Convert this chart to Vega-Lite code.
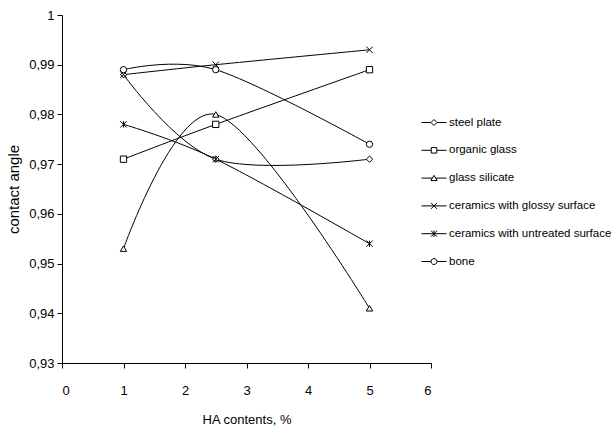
{
  "$schema": "https://vega.github.io/schema/vega-lite/v6.json",
  "width": 369,
  "height": 348,
  "autosize": {"type": "none"},
  "padding": {"left": 62, "top": 15, "right": 185, "bottom": 69},
  "background": "white",
  "config": {
    "view": {"stroke": null},
    "font": "Liberation Sans, Arial, sans-serif",
    "axis": {
      "grid": false,
      "domainColor": "black",
      "tickColor": "black",
      "tickSize": 5,
      "labelColor": "black",
      "labelFont": "Liberation Sans, Arial, sans-serif",
      "labelFontSize": 13,
      "titleColor": "black",
      "titleFont": "Liberation Sans, Arial, sans-serif",
      "titleFontWeight": "normal",
      "titleFontSize": 13
    },
    "legend": {
      "labelFont": "Liberation Sans, Arial, sans-serif",
      "labelFontSize": 11.5,
      "labelColor": "black",
      "labelLimit": 300,
      "symbolSize": 625,
      "symbolStrokeWidth": 1,
      "symbolStrokeColor": "black"
    }
  },
  "data": {
    "values": [
      {"series": "steel plate", "x": 1, "y": 0.988},
      {"series": "steel plate", "x": 2.5, "y": 0.971},
      {"series": "steel plate", "x": 5, "y": 0.971},
      {"series": "organic glass", "x": 1, "y": 0.971},
      {"series": "organic glass", "x": 2.5, "y": 0.978},
      {"series": "organic glass", "x": 5, "y": 0.989},
      {"series": "glass silicate", "x": 1, "y": 0.953},
      {"series": "glass silicate", "x": 2.5, "y": 0.980},
      {"series": "glass silicate", "x": 5, "y": 0.941},
      {"series": "ceramics with glossy surface", "x": 1, "y": 0.988},
      {"series": "ceramics with glossy surface", "x": 2.5, "y": 0.990},
      {"series": "ceramics with glossy surface", "x": 5, "y": 0.993},
      {"series": "ceramics with untreated surface", "x": 1, "y": 0.978},
      {"series": "ceramics with untreated surface", "x": 2.5, "y": 0.971},
      {"series": "ceramics with untreated surface", "x": 5, "y": 0.954},
      {"series": "bone", "x": 1, "y": 0.989},
      {"series": "bone", "x": 2.5, "y": 0.989},
      {"series": "bone", "x": 5, "y": 0.974}
    ]
  },
  "encoding": {
    "x": {
      "field": "x",
      "type": "quantitative",
      "scale": {"domain": [0, 6], "nice": false, "zero": false},
      "axis": {
        "values": [0, 1, 2, 3, 4, 5, 6],
        "format": "d",
        "labelPadding": 16,
        "title": "HA contents, %",
        "titlePadding": 16
      }
    },
    "y": {
      "field": "y",
      "type": "quantitative",
      "scale": {"domain": [0.93, 1], "nice": false, "zero": false},
      "axis": {
        "values": [0.93, 0.94, 0.95, 0.96, 0.97, 0.98, 0.99, 1],
        "labelExpr": "datum.value >= 0.9999 ? '1' : replace(format(datum.value, '.2f'), '.', ',')",
        "labelPadding": 3,
        "title": "contact angle",
        "titleFontSize": 15,
        "titlePadding": 7
      }
    }
  },
  "layer": [
    {
      "mark": {"type": "line", "interpolate": "cardinal", "color": "black", "strokeWidth": 1},
      "encoding": {
        "detail": {"field": "series", "type": "nominal"}
      }
    },
    {
      "mark": {"type": "point", "filled": true, "fill": "white", "stroke": "black", "strokeWidth": 1, "size": 40, "opacity": 1},
      "encoding": {
        "shape": {
          "field": "series",
          "type": "nominal",
          "scale": {
            "domain": ["steel plate", "organic glass", "glass silicate", "ceramics with glossy surface", "ceramics with untreated surface", "bone"],
            "range": ["diamond", "square", "triangle-up", "M-1,-1L1,1M-1,1L1,-1", "M-1,-1L1,1M-1,1L1,-1M0,-1L0,1", "circle"]
          },
          "legend": null
        }
      }
    },
    {
      "transform": [{"filter": "datum.x > 100"}],
      "mark": {"type": "point", "filled": false, "color": "black", "strokeWidth": 1, "opacity": 1},
      "encoding": {
        "shape": {
          "field": "series",
          "type": "nominal",
          "scale": {
            "domain": ["steel plate", "organic glass", "glass silicate", "ceramics with glossy surface", "ceramics with untreated surface", "bone"],
            "range": [
              "M-1,0H-0.24M0.24,0H1M-0.24,0L0,-0.24L0.24,0L0,0.24Z",
              "M-1,0H-0.22M0.22,0H1M-0.22,-0.22H0.22V0.22H-0.22Z",
              "M-1,0H-0.13M0.13,0H1M0,-0.22L0.25,0.2L-0.25,0.2Z",
              "M-1,0H1M-0.24,-0.24L0.24,0.24M-0.24,0.24L0.24,-0.24",
              "M-1,0H1M-0.24,-0.24L0.24,0.24M-0.24,0.24L0.24,-0.24M0,-0.26V0.26",
              "M-1,0H-0.24M0.24,0H1M0.24,0L0.208,0.12L0.12,0.208L0,0.24L-0.12,0.208L-0.208,0.12L-0.24,0L-0.208,-0.12L-0.12,-0.208L0,-0.24L0.12,-0.208L0.208,-0.12Z"
            ]
          },
          "legend": {
            "title": null,
            "orient": "none",
            "legendX": 359,
            "legendY": 94.5,
            "labelOffset": 2,
            "rowPadding": 8.8
          }
        }
      }
    }
  ],
  "resolve": {"scale": {"shape": "independent"}}
}
